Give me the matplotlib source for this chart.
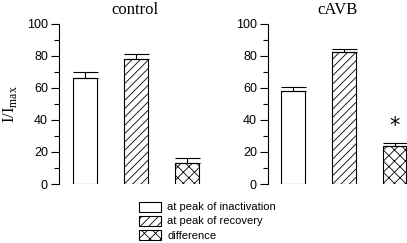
import numpy as np
import matplotlib
matplotlib.use("Agg")
import matplotlib.pyplot as plt
from matplotlib.patches import Patch
from matplotlib.ticker import MultipleLocator

plt.rcParams['font.family'] = ['Liberation Sans', 'DejaVu Sans']
plt.rcParams['hatch.linewidth'] = 0.6

groups = ['control', 'cAVB']
labels = ['at peak of inactivation', 'at peak of recovery', 'difference']
means = {'control': [66, 78, 13], 'cAVB': [58, 82.5, 23.5]}
errs = {'control': [4, 3.5, 3.5], 'cAVB': [2.5, 2, 2]}
hatches = ['', '////', 'xxx']

W, H = 407, 243
fig = plt.figure(figsize=(W / 100, H / 100), dpi=100)

# axes boxes in pixels: (spine x, right x), xlim
boxes = [(59, 210, -0.51, 2.45), (268, 407, -0.49, 2.24)]
y0, y1 = 184, 24

for g, (xl, xr, lo, hi) in zip(groups, boxes):
    ax = fig.add_axes([xl / W, (H - y0) / H, (xr - xl) / W, (y0 - y1) / H])
    x = np.arange(3)
    ax.bar(x, means[g], width=0.46, color='white', edgecolor='black',
           linewidth=0.8, hatch=hatches)
    ax.errorbar(x, means[g], yerr=[np.zeros(3), errs[g]], fmt='none',
                ecolor='black', elinewidth=0.8, capsize=9, capthick=0.8)
    ax.set_xlim(lo, hi)
    ax.set_ylim(0, 100)
    for s in ['top', 'right', 'bottom']:
        ax.spines[s].set_visible(False)
    ax.spines['left'].set_linewidth(0.8)
    ax.set_xticks([])
    ax.yaxis.set_major_locator(MultipleLocator(20))
    ax.yaxis.set_minor_locator(MultipleLocator(10))
    ax.tick_params(axis='y', which='major', length=5.5, width=0.8, labelsize=9, pad=2.5)
    ax.tick_params(axis='y', which='minor', length=3.5, width=0.8)
    ax.set_title(g, family='Liberation Serif', fontsize=12, pad=7)
    ax.patch.set_visible(False)
    if g == 'control':
        ax.set_ylabel('I/I$_\\mathregular{max}$', family='Liberation Serif',
                      fontsize=12, labelpad=6)
    else:
        ax.text(2, means[g][2] + errs[g][2] + 11, '*', ha='center', va='center',
                fontsize=15, family='DejaVu Sans')

handles = [Patch(facecolor='white', edgecolor='black', linewidth=0.8, hatch=h)
           for h in hatches]
fig.legend(handles, labels, loc='upper left', bbox_to_anchor=(133 / W, 1 - 196 / H),
           frameon=False, fontsize=8, handlelength=2.0, handleheight=1.0,
           labelspacing=0.3, borderpad=0, handletextpad=0.6)

fig.savefig('out.png', dpi=100)
